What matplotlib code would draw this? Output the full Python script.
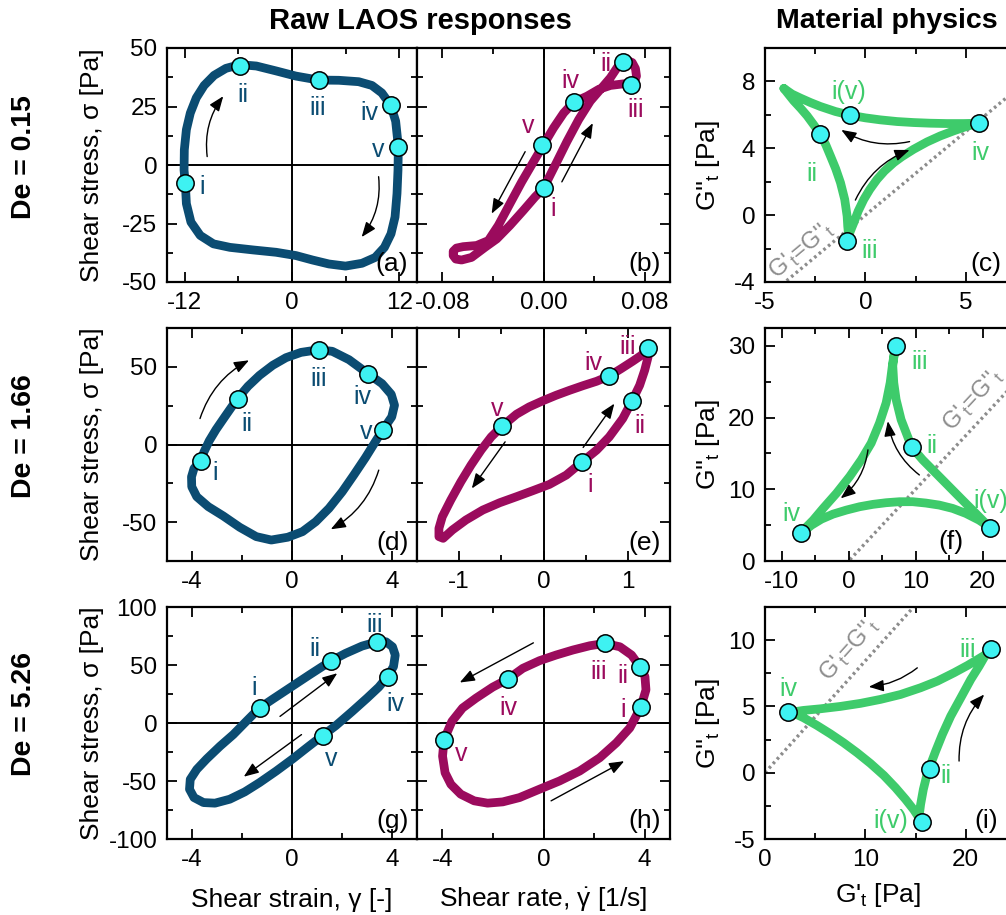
import matplotlib
matplotlib.use("Agg")
import matplotlib.pyplot as plt
from matplotlib.ticker import MultipleLocator, FormatStrFormatter

plt.rcParams['font.family'] = ['Liberation Sans', 'DejaVu Sans']
plt.rcParams['mathtext.fontset'] = 'custom'
plt.rcParams['mathtext.rm'] = 'Liberation Sans'
plt.rcParams['mathtext.it'] = 'Liberation Sans:italic'
plt.rcParams['mathtext.bf'] = 'Liberation Sans:bold'
plt.rcParams['axes.unicode_minus'] = False

BLUE = '#0b4c72'
MAG = '#9b0b5d'
GREEN = '#3ecb6b'
CYAN = '#3ef2f2'
GREY = '#8c8c8c'

raw_names = ['i', 'ii', 'iii', 'iv', 'v']
mat_names = ['i(v)', 'ii', 'iii', 'iv']

# --- De = 0.15 ---
a_strain = [-11.95, -12.09, -12.06, -11.83, -11.39, -10.72, -9.84, -8.73, -7.40, -5.84,
            -3.99, -1.78, 0.44, 2.96, 5.25, 7.47, 8.95, 10.06, 11.06, 11.61, 11.91, 11.87,
            11.76, 11.54, 11.09, 10.35, 9.32, 7.84, 5.99, 4.14, 2.29, 0.44, -1.78, -4.36,
            -6.95, -8.80, -10.28, -11.32, -11.83, -11.95]
a_stress = [-7.9, -2.2, 6.5, 15.1, 22.2, 28.7, 34.0, 38.3, 41.3, 42.9,
            42.3, 40.2, 38.0, 36.3, 36.2, 35.6, 34.0, 30.8, 25.5, 18.7, 7.9, -2.2,
            -12.2, -22.2, -29.4, -35.2, -39.5, -42.0, -43.2, -42.3, -40.6, -38.7, -37.3, -36.3,
            -35.2, -33.7, -30.1, -24.4, -16.5, -7.9]
a_mk_x = [-12.0, -5.8, 3.0, 11.1, 11.9]
a_mk_y = [-7.9, 42.3, 36.3, 25.5, 7.9]

b_rate = [0.000, 0.0040, 0.0106, 0.0185, 0.0278, 0.0370, 0.0450, 0.0529, 0.0582, 0.0630,
          0.0667, 0.0701, 0.0727, 0.0735, 0.0719, 0.0688, 0.0635, 0.0529, 0.0436, 0.0344,
          0.0238, 0.0159, 0.0079, 0.0000, -0.0079, -0.0172, -0.0265, -0.0357, -0.0436,
          -0.0529, -0.0635, -0.0688, -0.0714, -0.0714, -0.0693, -0.0648, -0.0569, -0.0463,
          -0.0370, -0.0265, -0.0159, -0.0066, 0.000]
b_stress = [-10.0, -5.7, 1.4, 10.0, 19.4, 27.3, 32.3, 37.3, 41.6, 44.2,
            44.5, 43.8, 41.2, 38.0, 35.7, 34.5, 34.7, 34.0, 32.3, 29.4,
            26.8, 22.2, 15.8, 8.6, 1.4, -7.2, -16.5, -25.8, -32.3,
            -34.4, -34.9, -35.5, -36.9, -38.7, -40.2, -40.6, -39.5, -35.2,
            -31.6, -25.8, -19.4, -13.6, -10.0]
b_mk_x = [0.0, 0.063, 0.0688, 0.0238, -0.0008]
b_mk_y = [-10.0, 44.2, 34.4, 27.0, 8.6]

c_gp = [-4.06, -3.65, -3.23, -2.74, -2.24, -1.49, -0.75, 0.00, 0.75, 1.58, 2.40, 3.23,
        4.06, 4.89, 5.64, 5.06, 4.39, 3.73, 3.07, 2.40, 1.82, 1.41, 0.95, 0.58, 0.22,
        -0.08, -0.36, -0.58, -0.75, -0.83, -0.88, -0.91, -1.03, -1.24, -1.48, -1.74,
        -1.97, -2.24, -2.57, -2.90, -3.23, -3.57, -3.81, -4.06]
c_gpp = [7.58, 7.24, 7.00, 6.74, 6.50, 6.20, 5.98, 5.82, 5.70, 5.60, 5.54, 5.50,
         5.48, 5.48, 5.50, 5.32, 5.04, 4.74, 4.38, 3.94, 3.50, 3.14, 2.64, 2.14, 1.54,
         0.94, 0.24, -0.46, -0.96, -1.26, -0.66, -0.06, 0.94, 1.94, 2.78, 3.54,
         4.20, 4.84, 5.40, 5.94, 6.40, 6.84, 7.20, 7.58]
c_mk_x = [-0.75, -2.24, -0.91, 5.67]
c_mk_y = [5.98, 4.84, -1.56, 5.54]

# --- De = 1.66 ---
d_strain = [-3.65, -3.52, -3.31, -3.04, -2.69, -2.18, -1.76, -1.30, -0.77, -0.24, 0.36,
            1.06, 1.61, 2.28, 3.04, 3.60, 3.97, 4.10, 3.99, 3.64, 3.33, 2.94, 2.47, 2.01,
            1.48, 0.95, 0.42, -0.17, -0.83, -1.43, -2.09, -2.75, -3.35, -3.81, -4.01,
            -4.02, -3.92, -3.65]
d_stress = [-10.7, -4.7, 2.4, 9.6, 17.8, 29.6, 37.5, 44.5, 51.0, 55.9, 59.3,
            61.0, 60.0, 54.6, 45.6, 39.2, 32.3, 25.3, 17.8, 9.6, 1.7, -8.4, -19.7, -30.4,
            -41.1, -49.7, -56.1, -59.7, -61.5, -59.3, -53.3, -46.0, -40.0, -33.6, -27.2,
            -20.8, -15.4, -10.7]
d_mk_x = [-3.65, -2.18, 1.06, 3.04, 3.64]
d_mk_y = [-10.7, 29.6, 61.0, 45.6, 9.6]

e_rate = [1.24, 1.16, 1.06, 0.92, 0.78, 0.63, 0.47, 0.31, 0.15, -0.01, -0.17, -0.32,
          -0.49, -0.62, -0.74, -0.86, -0.98, -1.10, -1.20, -1.24, -1.24, -1.19, -1.08,
          -0.92, -0.72, -0.52, -0.32, -0.13, 0.07, 0.27, 0.46, 0.63, 0.78, 0.94, 1.05,
          1.14, 1.20, 1.24, 1.24]
e_stress = [62.1, 57.4, 53.7, 48.8, 44.1, 40.7, 37.9, 34.9, 31.7, 28.1, 24.2, 19.5,
            11.8, 4.9, -3.6, -13.3, -24.0, -35.8, -46.5, -54.0, -59.3, -60.4, -55.0,
            -48.6, -42.2, -37.5, -33.6, -29.8, -25.7, -19.7, -11.1, -3.6, 4.9, 16.7, 28.0,
            38.1, 47.8, 56.3, 62.1]
e_mk_x = [0.46, 1.05, 1.24, 0.78, -0.49]
e_mk_y = [-11.1, 28.0, 62.1, 44.1, 11.8]

f_gp = [6.84, 6.59, 6.74, 7.09, 7.83, 9.42, 11.06, 13.04, 15.02, 17.0, 18.99, 20.23,
        20.97, 19.48, 17.5, 15.52, 13.53, 11.55, 9.57, 7.59, 5.60, 3.62, 1.64, -0.35,
        -2.33, -4.07, -5.55, -6.79, -6.54, -5.30, -3.82, -1.83, 0.15, 1.88, 3.37, 4.61,
        5.60, 6.20, 6.59, 6.84]
f_gpp = [29.07, 27.2, 24.86, 22.52, 19.72, 15.89, 14.11, 12.24, 10.37, 8.5, 6.64, 5.47,
         4.77, 5.70, 6.64, 7.34, 7.80, 8.08, 8.27, 8.27, 8.13, 7.90, 7.57, 7.10,
         6.54, 5.84, 5.0, 4.07, 4.53, 5.70, 7.34, 9.44, 11.78, 14.11, 16.45, 19.25,
         22.06, 24.86, 27.66, 29.07]
f_mk_x = [21.1, 9.42, 7.14, -7.19]
f_mk_y = [4.67, 15.9, 30.0, 3.93]

# --- De = 5.26 ---
g_strain = [-1.30, -0.77, -0.11, 0.69, 1.55, 2.14, 2.80, 3.40, 3.76, 4.02, 4.13, 4.06,
            3.82, 3.47, 3.00, 2.41, 1.75, 1.22, 0.62, 0.03, -0.63, -1.30, -1.89, -2.49,
            -3.08, -3.54, -3.92, -4.10, -4.07, -3.81, -3.41, -2.88, -2.35, -1.83, -1.30]
g_stress = [12.9, 20.6, 30.0, 41.4, 53.4, 60.0, 66.3, 70.0, 70.0, 65.7, 58.6, 48.6,
            40.0, 30.9, 21.4, 10.0, -2.3, -10.9, -20.9, -30.9, -41.4, -51.4, -59.4, -65.7,
            -69.1, -68.6, -64.3, -57.1, -48.6, -40.0, -30.9, -20.0, -10.0, 1.4, 12.9]
g_mk_x = [-1.30, 1.55, 3.40, 3.82, 1.22]
g_mk_y = [12.9, 53.4, 70.0, 40.0, -10.9]

h_rate = [2.42, 1.83, 1.16, 0.50, -0.16, -0.82, -1.42, -2.01, -2.67, -3.20, -3.62, -3.93,
          -3.99, -3.89, -3.66, -3.27, -2.74, -2.21, -1.61, -0.95, -0.16, 0.63, 1.43, 2.22,
          2.88, 3.41, 3.85, 4.05, 4.01, 3.81, 3.48, 3.02, 2.42]
h_stress = [68.6, 66.6, 62.9, 58.6, 53.7, 47.1, 37.7, 30.9, 21.4, 12.9, 1.4, -14.3,
            -28.6, -42.9, -52.9, -61.4, -67.1, -69.1, -68.0, -64.3, -57.1, -50.0, -41.4, -30.0,
            -17.1, -4.3, 13.7, 28.6, 40.0, 48.6, 58.6, 65.7, 68.6]
h_mk_x = [3.85, 3.81, 2.42, -1.42, -3.93]
h_mk_y = [13.7, 48.6, 68.6, 37.7, -14.3]

i_gp = [22.0, 21.17, 20.17, 18.83, 17.17, 15.5, 13.5, 11.5, 9.5, 7.5, 5.5, 3.83, 2.67,
        3.83, 5.17, 6.5, 7.83, 9.17, 10.5, 11.83, 13.0, 14.0, 14.83, 15.33,
        15.5, 15.77, 16.1, 16.5, 17.0, 17.67, 18.5, 19.5, 20.5, 21.33, 22.0]
i_gpp = [8.92, 8.54, 8.09, 7.54, 6.91, 6.41, 5.90, 5.53, 5.23, 5.0, 4.82, 4.70, 4.57,
         4.15, 3.57, 2.94, 2.26, 1.51, 0.70, -0.20, -1.13, -2.01, -2.81, -3.39,
         -2.39, -1.26, -0.25, 0.63, 1.63, 2.89, 4.27, 5.65, 7.04, 8.04, 8.92]
i_mk_x = [15.6, 16.43, 22.5, 2.33]
i_mk_y = [-3.72, 0.30, 9.35, 4.57]

# dotted G'_t = G''_t guide lines (end points)
c_diag_x, c_diag_y = [-20, 40], [-20, 40]
f_diag_x, f_diag_y = [-20, 40], [-20, 40]
i_diag_x, i_diag_y = [0, 14.8], [0, 12.5]

row_titles = ['De = 0.15', 'De = 1.66', 'De = 5.26']


def style(ax, xmaj, xmin, ymaj, ymin):
    for s in ax.spines.values():
        s.set_linewidth(1.6)
    ax.xaxis.set_major_locator(MultipleLocator(xmaj))
    ax.xaxis.set_minor_locator(MultipleLocator(xmin))
    ax.yaxis.set_major_locator(MultipleLocator(ymaj))
    ax.yaxis.set_minor_locator(MultipleLocator(ymin))
    ax.tick_params(which='both', direction='in', top=True, right=True, width=1.3,
                   labelsize=17.5, pad=7)
    ax.tick_params(which='major', length=7)
    ax.tick_params(which='minor', length=4)


def draw(ax, x, y, mx, my, names, color, lbl_xy, arrows, tag, tag_xy=(0.965, 0.025)):
    ax.plot(x, y, color=color, lw=6.3, solid_joinstyle='round', solid_capstyle='round', zorder=3)
    ax.plot(mx, my, 'o', ms=12.5, mfc=CYAN, mec='black', mew=1.1, zorder=5, clip_on=False)
    for name, (tx, ty) in zip(names, lbl_xy):
        ax.text(tx, ty, name, color=color, fontsize=18, ha='center', va='center', zorder=6)
    for (x0, y0), (x1, y1), rad in arrows:
        ax.annotate('', xy=(x1, y1), xytext=(x0, y0), zorder=4,
                    arrowprops=dict(arrowstyle='-|>,head_length=0.9,head_width=0.35',
                                    color='black', lw=1.0, shrinkA=0, shrinkB=0,
                                    connectionstyle=f'arc3,rad={rad}'))
    ax.text(tag_xy[0], tag_xy[1], tag, transform=ax.transAxes, ha='right', va='bottom',
            fontsize=19, zorder=6)


def zero_lines(ax):
    ax.axhline(0, color='black', lw=1.4, zorder=1)
    ax.axvline(0, color='black', lw=1.4, zorder=1)


def diag(ax, lx, ly, pos, rot=45):
    ax.plot(lx, ly, ls=(0, (0.8, 1.0)), color=GREY, lw=2.4, zorder=1)
    ax.text(pos[0], pos[1], r"G'$_{\rm t}$=G''$_{\rm t}$", color=GREY, fontsize=17,
            rotation=rot, transform_rotates_text=True, rotation_mode='anchor',
            ha='center', va='center', zorder=2)


W, H = 1006, 915
fig = plt.figure(figsize=(W / 100, H / 100), dpi=100)
cols = [(167, 250), (417, 253), (765, 251)]
rows = [(48, 282), (328, 561), (607, 839)]
axs = []
for top, bot in rows:
    line = []
    for left, wid in cols:
        line.append(fig.add_axes([left / W, 1 - bot / H, wid / W, (bot - top) / H]))
    axs.append(line)

(ax_a, ax_b, ax_c), (ax_d, ax_e, ax_f), (ax_g, ax_h, ax_i) = axs

# row 1
zero_lines(ax_a)
draw(ax_a, a_strain, a_stress, a_mk_x, a_mk_y, raw_names, BLUE,
     [(-10.1, -9.3), (-5.55, 30.1), (2.85, 24.4), (8.65, 22.2), (9.6, 6.2)],
     [((-9.5, 3.6), (-7.7, 29.4), -0.2), ((9.7, -5.0), (7.8, -30.8), -0.2)], '(a)')
ax_a.set_xlim(-14, 14)
ax_a.set_ylim(-50, 50)
style(ax_a, 12, 6, 25, 12.5)

zero_lines(ax_b)
draw(ax_b, b_rate, b_stress, b_mk_x, b_mk_y, raw_names, MAG,
     [(0.0079, -18.7), (0.049, 43.3), (0.0727, 23.7), (0.0212, 35.9), (-0.0119, 16.5)],
     [((-0.0145, 5.7), (-0.041, -20.8), 0), ((0.0145, -7.2), (0.039, 17.9), 0)], '(b)')
ax_b.set_xlim(-0.1, 0.1)
ax_b.set_ylim(-50, 50)
style(ax_b, 0.08, 0.04, 25, 12.5)
ax_b.xaxis.set_major_formatter(FormatStrFormatter('%.2f'))
ax_b.tick_params(labelleft=False)

diag(ax_c, c_diag_x, c_diag_y, (-3.2, -2.1))
draw(ax_c, c_gp, c_gpp, c_mk_x, c_mk_y, mat_names, GREEN,
     [(-0.83, 7.34), (-2.65, 2.44), (0.22, -2.16), (5.72, 3.74)],
     [((-0.5, 0.9), (2.2, 3.9), -0.2), ((2.2, 4.4), (-1.2, 5.1), -0.2)], '(c)', (0.94, 0.025))
ax_c.set_xlim(-5, 7.5)
ax_c.set_ylim(-4, 10)
style(ax_c, 5, 2.5, 4, 2)

# row 2
zero_lines(ax_d)
draw(ax_d, d_strain, d_stress, d_mk_x, d_mk_y, raw_names, BLUE,
     [(-3.08, -18.6), (-1.8, 13.5), (1.06, 42.4), (2.8, 30.6), (2.96, 8.1)],
     [((-3.68, 16.7), (-1.72, 54.2), -0.2), ((3.47, -16.5), (1.55, -54.6), -0.2)], '(d)')
ax_d.set_xlim(-5, 5)
ax_d.set_ylim(-75, 75)
style(ax_d, 4, 2, 50, 25)

zero_lines(ax_e)
draw(ax_e, e_rate, e_stress, e_mk_x, e_mk_y, raw_names, MAG,
     [(0.55, -26.1), (1.14, 11.8), (1.0, 62.7), (0.59, 52.5), (-0.55, 23.1)],
     [((-0.455, 1.7), (-0.85, -28.3), 0), ((0.47, -1.9), (0.84, 26.3), 0)], '(e)')
ax_e.set_xlim(-1.5, 1.5)
ax_e.set_ylim(-75, 75)
style(ax_e, 1, 0.5, 50, 25)
ax_e.tick_params(labelleft=False)

diag(ax_f, f_diag_x, f_diag_y, (18.5, 22.5))
draw(ax_f, f_gp, f_gpp, f_mk_x, f_mk_y, mat_names, GREEN,
     [(21.2, 8.3), (12.4, 16.1), (10.56, 27.7), (-8.5, 6.6)],
     [((10.56, 12.0), (5.85, 19.5), -0.2), ((2.88, 15.5), (-1.19, 8.74), -0.2)], '(f)', (0.79, 0.03))
ax_f.set_xlim(-12.5, 25)
ax_f.set_ylim(0, 32.5)
style(ax_f, 10, 5, 10, 5)

# row 3
zero_lines(ax_g)
draw(ax_g, g_strain, g_stress, g_mk_x, g_mk_y, raw_names, BLUE,
     [(-1.5, 30.0), (0.91, 63.4), (3.29, 84.3), (4.13, 16.6), (1.55, -31.4)],
     [((-0.48, 5.7), (1.81, 42.9), 0), ((0.38, -10.0), (-1.93, -46.3), 0)], '(g)')
ax_g.set_xlim(-5, 5)
ax_g.set_ylim(-100, 100)
style(ax_g, 4, 2, 50, 25)

zero_lines(ax_h)
draw(ax_h, h_rate, h_stress, h_mk_x, h_mk_y, raw_names, MAG,
     [(3.15, 11.4), (3.15, 40.6), (2.16, 44.3), (-1.38, 12.9), (-3.27, -27.1)],
     [((-0.40, 69.1), (-3.31, 34.9), 0), ((0.30, -67.1), (3.19, -32.9), 0)], '(h)')
ax_h.set_xlim(-5, 5)
ax_h.set_ylim(-100, 100)
style(ax_h, 4, 2, 50, 25)
ax_h.tick_params(labelleft=False)

diag(ax_i, i_diag_x, i_diag_y, (8.4, 9.3), rot=40.2)
draw(ax_i, i_gp, i_gpp, i_mk_x, i_mk_y, mat_names, GREEN,
     [(12.5, -3.64), (18.0, -0.25), (20.17, 9.25), (2.33, 6.33)],
     [((19.33, 0.88), (21.83, 5.9), -0.2), ((15.17, 7.91), (10.33, 6.48), -0.15)], '(i)', (0.93, 0.025))
ax_i.set_xlim(0, 25)
ax_i.set_ylim(-5, 12.5)
style(ax_i, 10, 5, 5, 2.5)

# labels
for ax in (ax_a, ax_d, ax_g):
    ax.set_ylabel('Shear stress, σ [Pa]', fontsize=19)
    ax.yaxis.set_label_coords(-0.252, 0.5)
for ax in (ax_c, ax_f, ax_i):
    ax.set_ylabel(r"G''$_{\rm t}$ [Pa]", fontsize=19)
    ax.yaxis.set_label_coords(-0.17, 0.5)

ax_g.set_xlabel('Shear strain, γ [-]', fontsize=19)
ax_h.set_xlabel(r'Shear rate, $\dot{\mathrm{\gamma}}$ [1/s]', fontsize=19)
ax_i.set_xlabel(r"G'$_{\rm t}$ [Pa]", fontsize=19)
ax_g.xaxis.set_label_coords(0.5, -0.21)
ax_h.xaxis.set_label_coords(0.5, -0.2)
ax_i.xaxis.set_label_coords(0.45, -0.18)

fig.text(420 / W, 1 - 21 / H, 'Raw LAOS responses', fontsize=21, fontweight='bold',
         ha='center', va='center')
fig.text(887 / W, 1 - 21 / H, 'Material physics', fontsize=20.5, fontweight='bold',
         ha='center', va='center')
for title, yc in zip(row_titles, [157, 436, 714]):
    fig.text(24 / W, 1 - yc / H, title, fontsize=20.5, fontweight='bold', rotation=90,
             ha='center', va='center')

fig.savefig('out.png', dpi=100)
